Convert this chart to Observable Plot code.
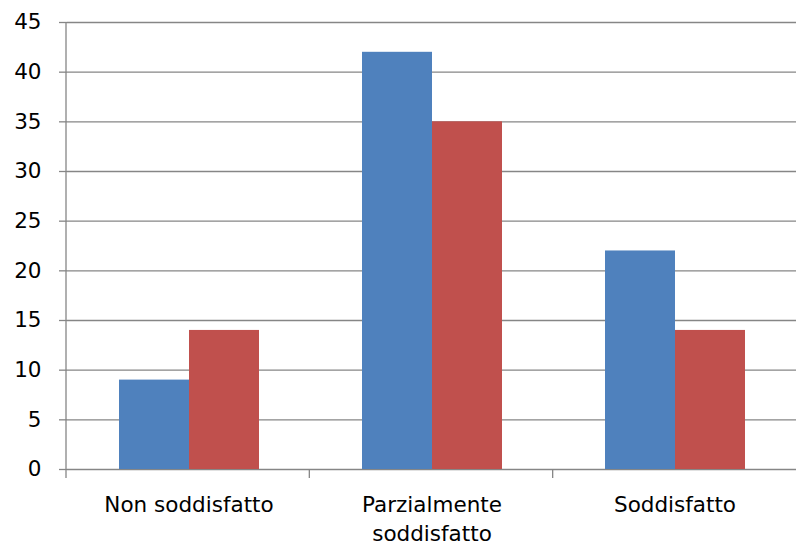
<!DOCTYPE html>
<html>
<head>
<meta charset="utf-8">
<script src="https://cdn.jsdelivr.net/npm/d3@7"></script>
<script src="https://cdn.jsdelivr.net/npm/@observablehq/plot@0.6"></script>
<style>
  html, body { margin: 0; padding: 0; background: #fff; }
  #chart svg { display: block; }
</style>
</head>
<body>
<div id="chart"></div>
<script>
const categories = ["Non soddisfatto", "Parzialmente soddisfatto", "Soddisfatto"];
const seriesNames = ["Serie 1", "Serie 2"];
const serie1 = [9, 42, 22];
const serie2 = [14, 35, 14];
const yTicks = [0, 5, 10, 15, 20, 25, 30, 35, 40, 45];
const colors = ["#4F81BD", "#C0504D"];

const data = [];
categories.forEach((c, i) => {
  data.push({category: c, series: seriesNames[0], value: serie1[i]});
  data.push({category: c, series: seriesNames[1], value: serie2[i]});
});

const FONT = "DejaVu Sans";
const gridColor = "#868686";
const FS = 21.5;

const plot = Plot.plot({
  width: 796,
  height: 546,
  marginLeft: 66,
  marginRight: 0,
  marginTop: 22,
  marginBottom: 77,
  style: {fontFamily: FONT, fontSize: FS + "px", color: "#000", background: "#fff"},
  fx: {domain: categories, padding: 0, label: null, axis: null},
  x: {domain: seriesNames, paddingInner: 0, paddingOuter: 0.72, axis: null},
  y: {domain: [0, 45], axis: null},
  color: {domain: seriesNames, range: colors},
  marks: [
    Plot.ruleY(yTicks, {y: d => d, stroke: gridColor, strokeWidth: 1.3}),
    Plot.barY(data, {fx: "category", x: "series", y: "value", fill: "series"}),
    Plot.axisY(yTicks, {
      anchor: "left", tickSize: 8, tickPadding: 18, stroke: gridColor, strokeWidth: 1.3,
      label: null, fill: "#000", fontSize: FS
    }),
    Plot.axisFx({
      anchor: "bottom", tickSize: 0, tickPadding: 21, label: null,
      lineWidth: 9, lineHeight: 1.38, fill: "#000", fontSize: FS
    })
  ]
});

document.getElementById("chart").appendChild(plot);

// y-axis line and category boundary ticks (Excel style), using Plot's fx scale
const svg = d3.select(plot);
const fx = plot.scale("fx");
const y = plot.scale("y");
const band = d3.scaleBand().domain(fx.domain).range(fx.range).padding(0);
const y0 = y.apply(0), yTop = y.apply(45);
const g = svg.append("g").attr("stroke", gridColor).attr("stroke-width", 1.3);
g.append("line").attr("x1", band.range()[0]).attr("x2", band.range()[0]).attr("y1", yTop).attr("y2", y0 + 9);
categories.forEach((c, i) => {
  if (i === 0) return;
  const x = band(c);
  g.append("line").attr("x1", x).attr("x2", x).attr("y1", y0).attr("y2", y0 + 9);
});
</script>
</body>
</html>
